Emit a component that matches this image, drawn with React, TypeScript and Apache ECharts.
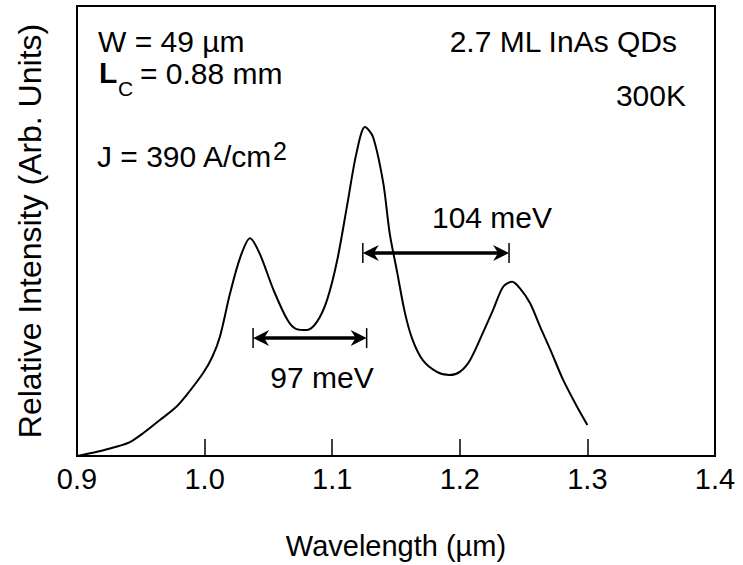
import React, { useEffect, useRef } from 'react';
import * as echarts from 'echarts';

// Emission spectrum
const wavelength = [0.900, 0.9125, 0.918, 0.930, 0.9415, 0.952, 0.965, 0.977, 0.986, 0.999, 1.006, 1.012, 1.020, 1.028, 1.0356, 1.043, 1.054, 1.065, 1.072, 1.080, 1.088, 1.096, 1.104, 1.112, 1.119, 1.1257, 1.132, 1.140, 1.145, 1.151, 1.157, 1.163, 1.171, 1.182, 1.192, 1.200, 1.208, 1.218, 1.226, 1.234, 1.241, 1.247, 1.255, 1.263, 1.271, 1.281, 1.292, 1.300];
const intensity = [0, 0.7, 1.1, 2.0, 3.1, 5.1, 8.0, 10.7, 13.6, 18.5, 22.0, 26.5, 36.2, 44.2, 48.4, 45.1, 36.9, 30.2, 28.2, 28.0, 29.8, 34.7, 43.6, 56.2, 67.3, 73.1, 70.9, 60.7, 49.6, 40.7, 31.8, 25.8, 21.3, 18.7, 18.0, 18.7, 21.3, 27.3, 32.4, 37.6, 38.7, 37.3, 34.0, 28.7, 23.6, 16.9, 10.9, 6.9];

// Peak-separation arrows
const gapStart = [1.038, 1.124];
const gapEnd = [1.127, 1.2386];
const gapLevel = [26.2, 45.1];
const gapLabels = ['97 meV', '104 meV'];

const xTickLabels = ['0.9', '1.0', '1.1', '1.2', '1.3', '1.4'];

const FONT = '"Liberation Sans", Arial, Helvetica, sans-serif';

export default function App() {
  const ref = useRef<HTMLDivElement>(null);
  useEffect(() => {
    const chart = echarts.init(ref.current!, null, { renderer: 'svg' });
    const txt = (text: string, x: number, y: number, opts: any = {}) => ({
      type: 'text',
      x,
      y,
      silent: true,
      z: 100,
      style: {
        text,
        fontSize: opts.size || 30,
        fontFamily: FONT,
        fontWeight: opts.weight || 'normal',
        fill: '#000',
        align: opts.align || 'left',
        verticalAlign: 'middle',
      },
    });
    chart.setOption({
      animation: false,
      backgroundColor: '#fff',
      grid: {
        left: 77,
        right: 28,
        top: 6,
        bottom: 109,
        show: true,
        borderColor: '#000',
        borderWidth: 2,
      },
      xAxis: {
        type: 'value',
        min: 0.9,
        max: 1.4,
        interval: 0.1,
        name: 'Wavelength (µm)',
        nameLocation: 'middle',
        nameGap: 75,
        nameTextStyle: { fontSize: 29, fontFamily: FONT, color: '#000' },
        axisLine: { show: true, lineStyle: { color: '#000', width: 2 } },
        axisTick: { show: true, inside: true, length: 17, lineStyle: { color: '#000', width: 1.5 } },
        axisLabel: {
          fontSize: 29,
          fontFamily: FONT,
          color: '#000',
          margin: 8,
          showMinLabel: true,
          showMaxLabel: true,
          formatter: (v: number) => xTickLabels[Math.round((v - 0.9) * 10)] ?? v.toFixed(1),
        },
        splitLine: { show: false },
      },
      yAxis: {
        type: 'value',
        min: 0,
        max: 100,
        name: 'Relative Intensity (Arb. Units)',
        nameLocation: 'middle',
        nameGap: 31,
        nameRotate: 90,
        nameTextStyle: { fontSize: 32, fontFamily: FONT, color: '#000' },
        axisLine: { show: true, lineStyle: { color: '#000', width: 2 } },
        axisTick: { show: false },
        axisLabel: { show: false },
        splitLine: { show: false },
      },
      series: [
        {
          type: 'line',
          data: wavelength.map((w, i) => [w, intensity[i]]),
          showSymbol: false,
          smooth: 0.3,
          lineStyle: { color: '#000', width: 2 },
          silent: true,
        },
        {
          type: 'custom',
          silent: true,
          encode: { x: [0, 1], y: 2 },
          data: gapStart.map((s, i) => [s, gapEnd[i], gapLevel[i], gapLabels[i]]),
          renderItem: (params: any, api: any) => {
            const p1 = api.coord([api.value(0), api.value(2)]);
            const p2 = api.coord([api.value(1), api.value(2)]);
            const y = p1[1];
            const a = 16;
            const h = 8;
            return {
              type: 'group',
              children: [
                { type: 'line', shape: { x1: p1[0] + 6, y1: y, x2: p2[0] - 6, y2: y }, style: { stroke: '#000', lineWidth: 3.5 } },
                { type: 'line', shape: { x1: p1[0], y1: y - 10, x2: p1[0], y2: y + 10 }, style: { stroke: '#000', lineWidth: 1.5 } },
                { type: 'line', shape: { x1: p2[0], y1: y - 10, x2: p2[0], y2: y + 10 }, style: { stroke: '#000', lineWidth: 1.5 } },
                { type: 'polygon', shape: { points: [[p1[0], y], [p1[0] + a, y - h], [p1[0] + a - 5, y], [p1[0] + a, y + h]] }, style: { fill: '#000' } },
                { type: 'polygon', shape: { points: [[p2[0], y], [p2[0] - a, y - h], [p2[0] - a + 5, y], [p2[0] - a, y + h]] }, style: { fill: '#000' } },
              ],
            };
          },
        },
      ],
      graphic: [
        txt('W = 49 µm', 98, 41),
        txt('L', 99, 72, { weight: 'bold' }),
        txt('C', 118, 88, { size: 21 }),
        txt('= 0.88 mm', 140, 73),
        txt('J = 390 A/cm', 97, 156),
        txt('2', 273, 151, { size: 25 }),
        txt('2.7 ML InAs QDs', 677, 41, { align: 'right' }),
        txt('300K', 686, 95, { align: 'right' }),
        txt(gapLabels[0], 322, 377, { align: 'center' }),
        txt(gapLabels[1], 492, 217, { align: 'center' }),
      ],
    });
    return () => chart.dispose();
  }, []);
  return (
    <div
      ref={ref}
      style={{ position: 'fixed', left: 0, top: 0, width: 743, height: 565, background: '#fff' }}
    />
  );
}
